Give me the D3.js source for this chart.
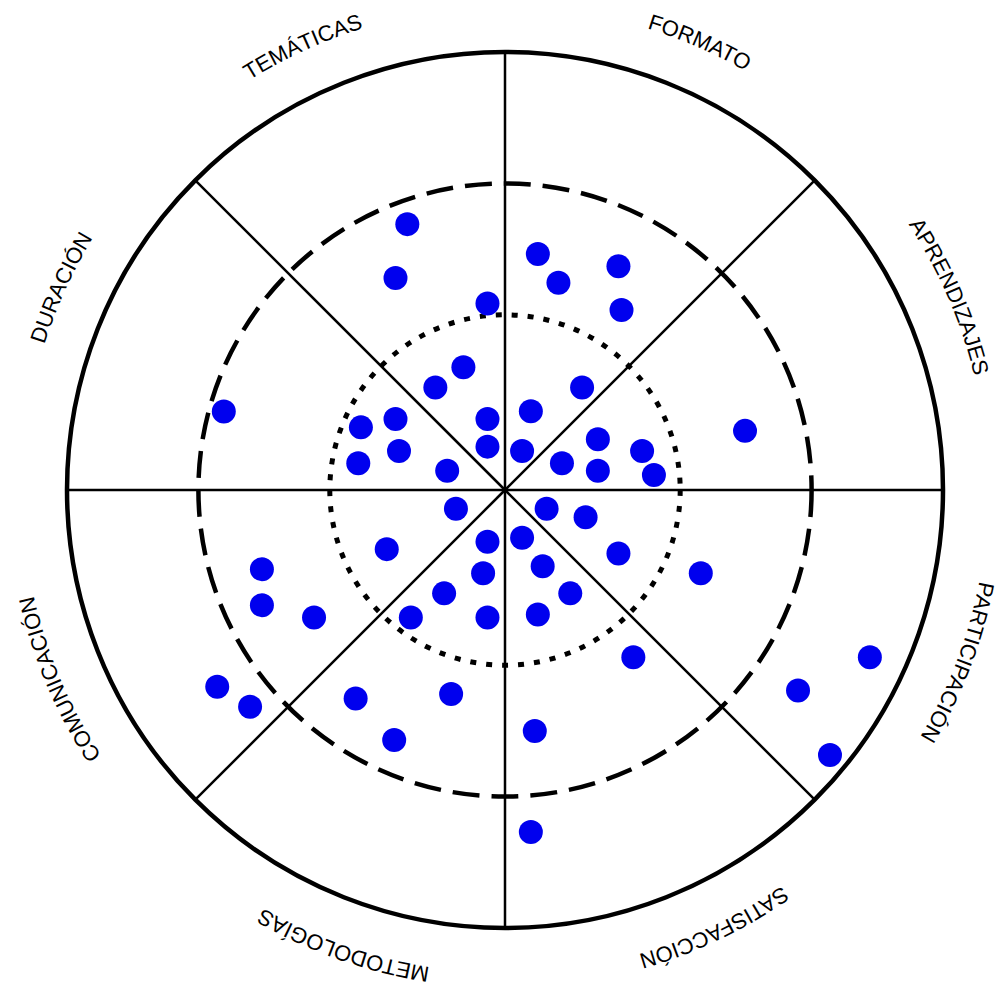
<!DOCTYPE html>
<html>
<head>
<meta charset="utf-8">
<script src="https://cdn.jsdelivr.net/npm/d3@7"></script>
<style>
  html, body { margin: 0; padding: 0; background: #fff; }
  svg { display: block; }
</style>
</head>
<body>
<div id="chart"></div>
<script>
// sectors, clockwise from 12 o'clock
const sectors = [
  "FORMATO", "APRENDIZAJES", "PARTICIPACIÓN", "SATISFACCIÓN",
  "METODOLOGÍAS", "COMUNICACIÓN", "DURACIÓN", "TEMÁTICAS"
];

// reference rings (same units as the dots, outer edge = 10)
const innerRing = 4;
const middleRing = 7;
const outerRing = 10;

// dot positions (x right, y up, centre = 0)
const dotX = [
  -2.23, -2.50, -0.40, -0.95, -1.59, -6.42, -2.50, -3.29, -0.40, -2.42, -0.40, -3.35, -1.32,
  0.75, 1.22, 2.59, 2.66, 1.76, 0.59, 0.39, 2.12, 1.30, 2.12, 3.13, 3.40, 5.48,
  -1.12, -0.40, -2.70, -5.55, -0.50, -1.39, -5.55, -4.36, -2.15, -0.40, -6.57, -5.82, -3.41, -1.23, -2.53,
  0.95, 1.84, 0.39, 0.86, 2.59, 4.47, 1.49, 0.75, 2.93, 8.33, 6.69, 7.42, 0.68, 0.59
];
const dotY = [
  6.07, 4.84, 4.26, 2.80, 2.34, 1.79, 1.62, 1.43, 1.62, 0.89, 0.99, 0.61, 0.44,
  5.39, 4.73, 5.11, 4.11, 2.34, 1.80, 0.89, 1.16, 0.61, 0.44, 0.89, 0.34, 1.35,
  -0.43, -1.18, -1.35, -1.81, -1.90, -2.36, -2.63, -2.91, -2.91, -2.91, -4.49, -4.95, -4.76, -4.66, -5.71,
  -0.43, -0.62, -1.09, -1.74, -1.45, -1.90, -2.36, -2.84, -3.82, -3.82, -4.58, -6.05, -5.50, -7.81
];

const width = 1000, height = 993;
const cx = 505, cy = 490;
const R = 438;

const svg = d3.select("#chart")
  .append("svg")
  .attr("width", width)
  .attr("height", height);

svg.append("rect")
  .attr("width", width)
  .attr("height", height)
  .style("fill", "#fff");

const x = d3.scaleLinear().domain([-outerRing, outerRing]).range([cx - R, cx + R]);
const y = d3.scaleLinear().domain([-outerRing, outerRing]).range([cy + R, cy - R]);
const r = d3.scaleLinear().domain([0, outerRing]).range([0, R]);

// angle of sector boundary i, clockwise from top
const angle = d3.scaleLinear().domain([0, sectors.length]).range([0, 2 * Math.PI]);

// sector dividers
svg.append("g")
  .selectAll("line")
  .data(d3.range(sectors.length))
  .join("line")
  .attr("x1", cx)
  .attr("y1", cy)
  .attr("x2", (i) => cx + r(outerRing) * Math.sin(angle(i)))
  .attr("y2", (i) => cy - r(outerRing) * Math.cos(angle(i)))
  .style("stroke", "#000")
  .style("stroke-width", 2.5);

// dotted inner ring
svg.append("circle")
  .attr("cx", cx).attr("cy", cy)
  .attr("r", r(innerRing))
  .style("fill", "none")
  .style("stroke", "#000")
  .style("stroke-width", 5)
  .style("stroke-dasharray", "6,10");

// dashed middle ring
svg.append("circle")
  .attr("cx", cx).attr("cy", cy)
  .attr("r", r(middleRing))
  .style("fill", "none")
  .style("stroke", "#000")
  .style("stroke-width", 4.5)
  .style("stroke-dasharray", "27,12");

// outer ring
svg.append("circle")
  .attr("cx", cx).attr("cy", cy)
  .attr("r", r(outerRing))
  .style("fill", "none")
  .style("stroke", "#000")
  .style("stroke-width", 4.5);

// dots
svg.append("g")
  .selectAll("circle")
  .data(d3.range(dotX.length))
  .join("circle")
  .attr("cx", (i) => x(dotX[i]))
  .attr("cy", (i) => y(dotY[i]))
  .attr("r", 12)
  .style("fill", "#0000ee");

// curved labels, one arc per sector, running clockwise
// labels in the original are nudged a bit off the sector middle (degrees, clockwise +)
const labelR = 483;
const labelNudge = [1, -1, -1.7, -3, -3, -0.5, 2, -2];
const deg = Math.PI / 180;
const defs = svg.append("defs");
sectors.forEach((name, i) => {
  const p = d3.path();
  const a0 = angle(i) + labelNudge[i] * deg - Math.PI / 2;
  const a1 = angle(i + 1) + labelNudge[i] * deg - Math.PI / 2;
  p.arc(cx, cy, labelR, a0, a1);
  defs.append("path")
    .attr("id", `label-arc-${i}`)
    .attr("d", p.toString());
});

svg.append("g")
  .selectAll("text")
  .data(sectors)
  .join("text")
  .style("font-family", "'Liberation Sans', Arial, sans-serif")
  .style("font-size", "22px")
  .style("fill", "#000")
  .append("textPath")
  .attr("href", (d, i) => `#label-arc-${i}`)
  .attr("startOffset", "50%")
  .attr("text-anchor", "middle")
  .text((d) => d);
</script>
</body>
</html>
